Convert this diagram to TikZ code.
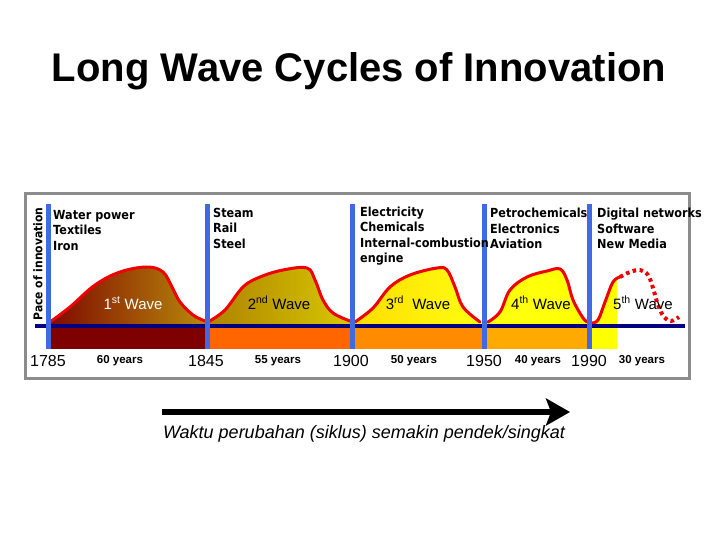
\documentclass[tikz,border=0pt]{standalone}
\usepackage{fontspec}
\setmainfont{Liberation Sans}
\newfontfamily\listfont[FakeStretch=0.9]{DejaVu Sans}
\usetikzlibrary{arrows.meta}
\definecolor{lwRoyal}{HTML}{4169E1}
\definecolor{lwNavy}{HTML}{000080}
\definecolor{lwRed}{HTML}{F00000}
\definecolor{lwFrame}{HTML}{8C8C8C}
\definecolor{lwMaroon}{HTML}{7F0000}
\definecolor{lwOrangeA}{HTML}{FF6600}
\definecolor{lwOrangeB}{HTML}{FF8C00}
\definecolor{lwOrangeC}{HTML}{FFAA00}
\definecolor{lwYellow}{HTML}{FFFF00}
\definecolor{lwBrownL}{HTML}{7F0800}
\definecolor{lwBrownR}{HTML}{B88A0A}
\definecolor{lwGoldL}{HTML}{AE8200}
\definecolor{lwGoldR}{HTML}{D8C800}
\definecolor{lwLemonL}{HTML}{FFDC00}
\definecolor{lwLemonR}{HTML}{FFFF10}
\tikzset{
  lwlist/.style={anchor=north west, align=left, inner sep=0pt,
    font=\listfont\bfseries\fontsize{12.5}{15.5}\selectfont},
  lwwave/.style={anchor=base, inner sep=0pt, font=\fontsize{15}{17}\selectfont, text=#1},
  lwwave/.default=black,
  lwyear/.style={anchor=base, inner sep=0pt, font=\fontsize{16}{18}\selectfont},
  lwspan/.style={anchor=base, inner sep=0pt, font=\bfseries\fontsize{11.5}{13}\selectfont},
  lwera/.style={draw=lwRoyal, line width=5pt},
  lwcrest/.style={draw=lwRed, line width=3pt, line join=round, line cap=round},
  lwbar/.style={fill=#1, draw=none}
}
\begin{document}
\begin{tikzpicture}[x=1pt, y=-1pt]
  \useasboundingbox (0,0) rectangle (720,540);
  \fill[white] (0,0) rectangle (720,540);

  \node[font=\bfseries\fontsize{40}{44}\selectfont, anchor=base, inner sep=0pt] (title) at (359,82) {Long Wave Cycles of Innovation};

  % frame
  \draw[lwFrame, line width=3pt] (25,194) rectangle (689,378);

  % bars under the axis
  \fill[lwbar=lwMaroon] (48,326) rectangle (207,349);
  \fill[lwbar=lwOrangeA] (207,326) rectangle (352,349);
  \fill[lwbar=lwOrangeB] (352,326) rectangle (484,349);
  \fill[lwbar=lwOrangeC] (484,326) rectangle (589,349);
  \fill[lwbar=lwYellow] (589,326) rectangle (617,349);

  % waves
  \shade[left color=lwBrownL, right color=lwBrownR] (48,326) -- plot[smooth, tension=0.6] coordinates {(50,322) (70,307) (95,285) (120,272) (147,267) (163,272) (172,287) (180,302) (193,315) (205,321)} -- (207,326) -- cycle;
  \draw[lwcrest] plot[smooth, tension=0.6] coordinates {(50,322) (70,307) (95,285) (120,272) (147,267) (163,272) (172,287) (180,302) (193,315) (205,321)};

  \shade[left color=lwGoldL, right color=lwGoldR] (207,326) -- plot[smooth, tension=0.6] coordinates {(208,322) (225,310) (243,287) (260,277) (283,270) (307,268) (315,280) (323,300) (333,313) (350,321)} -- (352,326) -- cycle;
  \draw[lwcrest] plot[smooth, tension=0.6] coordinates {(208,322) (225,310) (243,287) (260,277) (283,270) (307,268) (315,280) (323,300) (333,313) (350,321)};

  \shade[left color=lwLemonL, right color=lwLemonR] (352,326) -- plot[smooth, tension=0.6] coordinates {(355,322) (373,308) (390,287) (410,275) (437,268) (447,270) (455,287) (463,307) (480,322)} -- (484,326) -- cycle;
  \draw[lwcrest] plot[smooth, tension=0.6] coordinates {(355,322) (373,308) (390,287) (410,275) (437,268) (447,270) (455,287) (463,307) (480,322)};

  \shade[left color=lwLemonR, right color=lwYellow] (484,326) -- plot[smooth, tension=0.6] coordinates {(488,322) (500,312) (510,290) (527,277) (547,271) (560,269) (567,280) (573,300) (583,318) (588,322)} -- (589,326) -- cycle;
  \draw[lwcrest] plot[smooth, tension=0.6] coordinates {(488,322) (500,312) (510,290) (527,277) (547,271) (560,269) (567,280) (573,300) (583,318) (588,322)};

  \fill[lwYellow] (589,326) -- plot[smooth, tension=0.6] coordinates {(591,323) (598,320) (605,302) (613,282) (617,279)} -- (617,326) -- cycle;
  \draw[lwcrest] plot[smooth, tension=0.6] coordinates {(591,323) (598,320) (605,302) (613,282) (620,277)};
  \draw[lwRed, line width=4pt, dash pattern=on 3.5pt off 3.5pt] plot[smooth, tension=0.6] coordinates {(620,277) (630,272) (640,270) (648,275) (653,288) (658,305) (664,317) (671,321) (679,317)};

  % axis and era lines
  \draw[lwNavy, line width=4pt] (35,326) -- (685,326);
  \foreach \ex in {48,207,352,484,589}
    \draw[lwera] (\ex,204) -- (\ex,349);

  \node[rotate=90, inner sep=0pt, font=\listfont\bfseries\fontsize{12}{14}\selectfont] (pace) at (38,264) {Pace of innovation};

  % innovations of each wave
  \node[lwlist] (listA) at (53,210) {Water power\\Textiles\\Iron};
  \node[lwlist] (listB) at (213,208) {Steam\\Rail\\Steel};
  \node[lwlist] (listC) at (360,206.5) {Electricity\\Chemicals\\Internal-combustion\\engine};
  \node[lwlist] (listD) at (490,208) {Petrochemicals\\Electronics\\Aviation};
  \node[lwlist] (listE) at (597,208) {Digital networks\\Software\\New Media};

  \node[lwwave=white] (waveA) at (133,309) {1\textsuperscript{st} Wave};
  \node[lwwave] (waveB) at (279,309) {2\textsuperscript{nd} Wave};
  \node[lwwave] (waveC) at (418,309) {3\textsuperscript{rd}\ \ Wave};
  \node[lwwave] (waveD) at (541,309) {4\textsuperscript{th} Wave};
  \node[lwwave] (waveE) at (643,309) {5\textsuperscript{th} Wave};

  \node[lwyear] (yearA) at (48,366) {1785};
  \node[lwyear] (yearB) at (206,366) {1845};
  \node[lwyear] (yearC) at (351,366) {1900};
  \node[lwyear] (yearD) at (484,366) {1950};
  \node[lwyear] (yearE) at (589,366) {1990};

  \node[lwspan] (spanA) at (120,363) {60 years};
  \node[lwspan] (spanB) at (278,363) {55 years};
  \node[lwspan] (spanC) at (414,363) {50 years};
  \node[lwspan] (spanD) at (538,363) {40 years};
  \node[lwspan] (spanE) at (642,363) {30 years};

  % shortening cycles
  \coordinate (arrowtail) at (162,412);
  \coordinate (arrowtip) at (570,412);
  \draw[line width=6pt, -{Stealth[length=24pt, width=27pt, inset=5pt]}] (arrowtail) -- (arrowtip);
  \node[anchor=base, inner sep=0pt, font=\itshape\fontsize{18}{20}\selectfont] (cycletext) at (364,438) {Waktu perubahan (siklus) semakin pendek/singkat};
\end{tikzpicture}
\end{document}
